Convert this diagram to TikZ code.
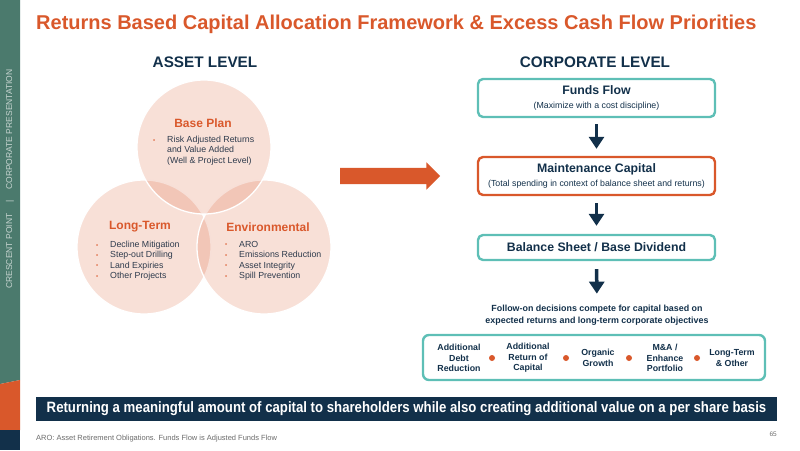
\documentclass[tikz,border=0pt]{standalone}
\usepackage{fontspec}
\setmainfont{Liberation Sans}
\newfontfamily\narrowfont[FakeStretch=0.88]{Liberation Sans}
\usepackage{tikz}
\usetikzlibrary{arrows.meta,positioning,shapes.arrows}
\definecolor{cporange}{HTML}{D9582B}
\definecolor{cpnavy}{HTML}{12304A}
\definecolor{cpteal}{HTML}{5EBFB6}
\definecolor{cpgreen}{HTML}{4B7A6D}
\definecolor{cptext}{HTML}{2E3B4C}
\definecolor{cpgray}{HTML}{6B6B6B}
\definecolor{cpside}{HTML}{C9D6D2}
\newcommand{\fsz}[2]{\fontsize{#1}{#2}\selectfont}
\newcommand{\dotitem}{\makebox[14pt][l]{\textcolor{cporange}{\raisebox{0.4pt}{\fsz{6}{6}\textbullet}}}}

\begin{document}
\begin{tikzpicture}[x=1pt,y=-1pt,>=Stealth,line cap=round,line join=round,
  venn/.style={circle,minimum size=134pt,inner sep=0pt,fill=cporange,fill opacity=0.19,draw=white,draw opacity=1,line width=1.3pt},
  venntitle/.style={font=\bfseries\fsz{12}{13},text=cporange},
  vennlist/.style={anchor=north west,inner sep=0pt,align=left,font=\fsz{8.8}{10.4},text=cptext},
  level/.style={font=\bfseries\fsz{15.3}{16},text=cpnavy},
  flowbox/.style={draw=#1,line width=2.4pt,rounded corners=5pt,minimum width=237pt,inner sep=0pt,align=center,text=cpnavy,font=\fsz{12.3}{14}},
  downarrow/.style={-{Triangle[width=15pt,length=12pt]},line width=3.5pt,draw=cpnavy,line cap=butt},
  choice/.style={align=center,font=\bfseries\fsz{8.8}{10.5},text=cpnavy},
  dotmark/.style={circle,fill=cporange,minimum size=6pt,inner sep=0pt}]
  \useasboundingbox (0,0) rectangle (800,450);

  % side bar
  \fill[cpgreen] (0,0) -- (20,0) -- (20,380) -- (0,384) -- cycle;
  \fill[cporange] (0,384) -- (20,380) -- (20,430) -- (0,430) -- cycle;
  \fill[cpnavy] (0,430) rectangle (20,450);
  \node[rotate=90,font=\fsz{8.5}{9},text=cpside] (sidetext) at (10,179)
    {CRESCENT POINT \quad | \quad CORPORATE PRESENTATION};

  % title
  \node[anchor=base west,inner sep=0pt,font=\bfseries\fsz{20}{21},text=cporange] (title) at (36,29)
    {Returns Based Capital Allocation Framework \& Excess Cash Flow Priorities};
  \node[level] (asset) at (205,62) {ASSET LEVEL};
  \node[level] (corp) at (595,62) {CORPORATE LEVEL};

  % circles
  \node[venn] (longterm) at (144,247) {};
  \node[venn] (env) at (264,247) {};
  \node[venn] (base) at (204,147) {};

  \node[venntitle] (baseT) at (203,123) {Base Plan};
  \node[vennlist] (baseL) at (153,136)
    {\dotitem Risk Adjusted Returns\\\hspace*{14pt}and Value Added\\\hspace*{14pt}(Well \& Project Level)};
  \node[venntitle] (longT) at (140,227) {Long-Term};
  \node[vennlist] (longL) at (96,241)
    {\dotitem Decline Mitigation\\\dotitem Step-out Drilling\\\dotitem Land Expiries\\\dotitem Other Projects};
  \node[venntitle] (envT) at (268,227) {Environmental};
  \node[vennlist] (envL) at (225,241)
    {\dotitem ARO\\\dotitem Emissions Reduction\\\dotitem Asset Integrity\\\dotitem Spill Prevention};

  % big arrow
  \node[single arrow,fill=cporange,minimum height=100pt,inner xsep=0pt,inner ysep=8pt,
    single arrow head extend=5.5pt] (bigarrow) at (386,176) {};

  % corporate flow
  \node[flowbox=cpteal,minimum height=38pt] (funds) at (596.5,98)
    {{\bfseries Funds Flow}\\{\fsz{8.8}{14}(Maximize with a cost discipline)}};
  \node[flowbox=cporange,minimum height=38pt] (maint) at (596.5,176)
    {{\bfseries Maintenance Capital}\\{\fsz{8.8}{14}(Total spending in context of balance sheet and returns)}};
  \node[flowbox=cpteal,minimum height=25pt,font=\bfseries\fsz{12.3}{14}] (balance) at (596.5,247.5)
    {Balance Sheet / Base Dividend};
  \node[align=center,inner sep=0pt,font=\bfseries\fsz{8.9}{12},text=cpnavy] (follow) at (597,315)
    {Follow-on decisions compete for capital based on\\expected returns and long-term corporate objectives};

  \draw[downarrow,shorten <=6pt,shorten >=7pt] (funds) -- (maint);
  \draw[downarrow,shorten <=7pt,shorten >=8pt] (maint) -- (balance);
  \draw[downarrow,shorten <=8pt,shorten >=11pt] (balance) -- (follow);

  % follow-on choices
  \node[draw=cpteal,line width=2.4pt,rounded corners=6pt,minimum width=342pt,minimum height=45pt] (choices) at (594,357.5) {};
  \node[choice] (debt) at (459,358) {Additional\\Debt\\Reduction};
  \node[choice] (rtn) at (528,358) {Additional\\Return of\\Capital};
  \node[choice] (organic) at (598,358) {Organic\\Growth};
  \node[choice] (mna) at (665,358) {M\&A /\\Enhance\\Portfolio};
  \node[choice] (other) at (732,358) {Long-Term\\\& Other};
  \foreach \x [count=\i] in {492,566,629,697}
    \node[dotmark] (dot\i) at (\x,358) {};

  % banner and footer
  \node[fill=cpnavy,minimum width=741pt,minimum height=24pt,inner sep=0pt,text=white,
    font=\narrowfont\bfseries\fsz{15}{16}] (banner) at (406.5,409)
    {Returning a meaningful amount of capital to shareholders while also creating additional value on a per share basis};
  \node[anchor=base west,inner sep=0pt,font=\fsz{7.5}{8},text=cpgray] (note) at (36,440)
    {ARO: Asset Retirement Obligations. Funds Flow is Adjusted Funds Flow};
  \node[anchor=base east,inner sep=0pt,font=\fsz{6.5}{7},text=cpgray] (page) at (777,436) {65};
\end{tikzpicture}
\end{document}
